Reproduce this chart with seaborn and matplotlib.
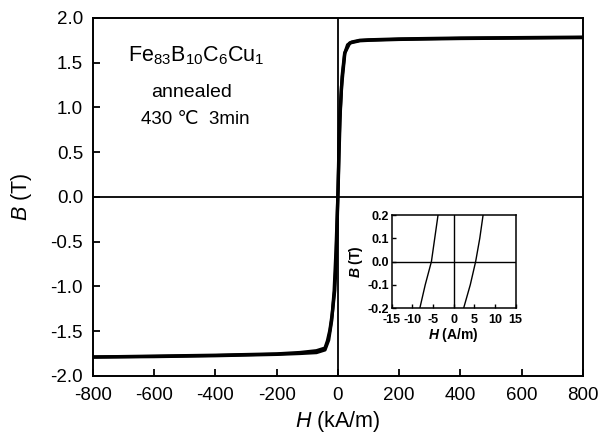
import matplotlib
matplotlib.use("Agg")
import matplotlib.pyplot as plt
import seaborn as sns
import numpy as np
import pandas as pd

# Main loop data (H in kA/m, B in T)
H_desc = [800, 600, 400, 200, 100, 72, 39, 23, 12, 6, 3, 0, -3, -6, -10, -18, -26, -34, -42, -70, -124, -200, -400, -600, -800]
B_desc = [1.78, 1.775, 1.77, 1.76, 1.75, 1.745, 1.72, 1.61, 1.23, 0.86, 0.45, 0.0, -0.40, -0.75, -1.04, -1.30, -1.49, -1.61, -1.69, -1.72, -1.74, -1.755, -1.77, -1.78, -1.79]
H_asc = [-800, -600, -400, -200, -124, -70, -42, -30, -20, -12, -6, -2, 1, 4, 8, 14, 22, 32, 45, 72, 100, 200, 400, 600, 800]
B_asc = [-1.79, -1.785, -1.775, -1.76, -1.75, -1.74, -1.71, -1.60, -1.38, -1.05, -0.60, -0.20, 0.10, 0.50, 0.95, 1.35, 1.60, 1.70, 1.73, 1.75, 1.755, 1.765, 1.775, 1.78, 1.785]

# Inset data (H in A/m, B in T)
Hi_left = [-8.2, -6.9, -5.4, -4.6, -3.8]
Bi_left = [-0.2, -0.1, 0.0, 0.1, 0.2]
Hi_right = [2.4, 4.0, 5.3, 6.3, 7.1]
Bi_right = [-0.2, -0.1, 0.0, 0.1, 0.2]

main_xticks = [-800, -600, -400, -200, 0, 200, 400, 600, 800]
main_yticks = [-2.0, -1.5, -1.0, -0.5, 0.0, 0.5, 1.0, 1.5, 2.0]
inset_xticks = [-15, -10, -5, 0, 5, 10, 15]
inset_yticks = [-0.2, -0.1, 0.0, 0.1, 0.2]

sns.set_style("ticks")
plt.rcParams['font.family'] = ['Liberation Sans', 'DejaVu Sans']
plt.rcParams['axes.unicode_minus'] = False
plt.rcParams['text.color'] = 'black'
plt.rcParams['axes.labelcolor'] = 'black'
plt.rcParams['xtick.color'] = 'black'
plt.rcParams['ytick.color'] = 'black'
plt.rcParams['mathtext.fontset'] = 'custom'
plt.rcParams['mathtext.it'] = 'Liberation Sans:italic'
plt.rcParams['mathtext.rm'] = 'Liberation Sans'
plt.rcParams['mathtext.bf'] = 'Liberation Sans:bold'
plt.rcParams['mathtext.bfit'] = 'Liberation Sans:bold:italic'

fig = plt.figure(figsize=(5.99, 4.37), dpi=100)
ax = fig.add_axes([0.155, 0.140, 0.818, 0.819])

d1 = pd.DataFrame({"H": H_desc, "B": B_desc})
d2 = pd.DataFrame({"H": H_asc, "B": B_asc})
sns.lineplot(data=d1, x="H", y="B", sort=False, color="black", lw=2.4, ax=ax, estimator=None)
sns.lineplot(data=d2, x="H", y="B", sort=False, color="black", lw=2.4, ax=ax, estimator=None)
ax.axhline(0, color="black", lw=1.3, zorder=1)
ax.axvline(0, color="black", lw=1.3, zorder=1)

ax.set_xlim(-800, 800)
ax.set_ylim(-2.0, 2.0)
ax.set_xticks(main_xticks)
ax.set_xticklabels([str(v) for v in main_xticks])
ax.set_yticks(main_yticks)
ax.set_yticklabels([f"{v:.1f}" for v in main_yticks])
ax.tick_params(direction="in", length=5, width=1.3, labelsize=13.5, top=False, right=False,
               colors="black", labelcolor="black")
ax.tick_params(axis="x", pad=8)
ax.tick_params(axis="y", pad=7)
for s in ax.spines.values():
    s.set_linewidth(1.4)
    s.set_color("black")
ax.set_xlabel(r"$\mathit{H}$ (kA/m)", fontsize=15.5, labelpad=4, color="black")
ax.set_ylabel(r"$\mathit{B}$ (T)", fontsize=15.5, labelpad=12, color="black")

ax.text(0.212, 0.895, r"Fe$_{83}$B$_{10}$C$_{6}$Cu$_{1}$", transform=ax.transAxes,
        ha="center", va="center", fontsize=15.5, color="black")
ax.text(0.202, 0.793, "annealed", transform=ax.transAxes, ha="center", va="center", fontsize=14, color="black")
ax.text(0.210, 0.715, "430 ℃  3min", transform=ax.transAxes, ha="center", va="center", fontsize=13.5, color="black")

# Inset
ins = fig.add_axes([0.654, 0.295, 0.207, 0.213])
e1 = pd.DataFrame({"H": Hi_left, "B": Bi_left})
e2 = pd.DataFrame({"H": Hi_right, "B": Bi_right})
sns.lineplot(data=e1, x="H", y="B", sort=False, color="black", lw=1.0, ax=ins, estimator=None)
sns.lineplot(data=e2, x="H", y="B", sort=False, color="black", lw=1.0, ax=ins, estimator=None)
ins.axhline(0, color="black", lw=1.0)
ins.axvline(0, color="black", lw=1.0)
ins.set_xlim(-15, 15)
ins.set_ylim(-0.2, 0.2)
ins.set_xticks(inset_xticks)
ins.set_yticks(inset_yticks)
ins.set_yticklabels([f"{v:.1f}" for v in inset_yticks], fontweight="bold")
ins.set_xticklabels([str(v) for v in inset_xticks], fontweight="bold")
ins.tick_params(direction="in", length=3, width=1.0, labelsize=9, pad=2, colors="black", labelcolor="black")
ins.tick_params(axis="x", pad=4)
for s in ins.spines.values():
    s.set_linewidth(1.1)
    s.set_color("black")
ins.set_xlabel(r"$\mathbfit{H}$ (A/m)", fontsize=10, fontweight="bold", labelpad=0, color="black")
ins.set_ylabel(r"$\mathbfit{B}$ (T)", fontsize=10, fontweight="bold", labelpad=2, color="black")

fig.savefig("out.png", dpi=100)
